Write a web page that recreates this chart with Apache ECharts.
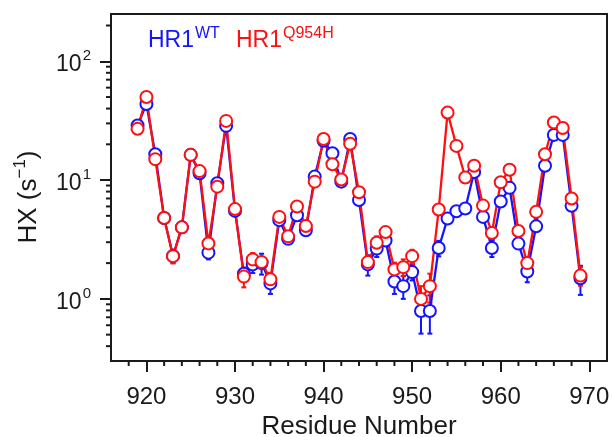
<!DOCTYPE html>
<html>
<head>
<meta charset="utf-8">
<script src="https://cdn.jsdelivr.net/npm/echarts@6/dist/echarts.min.js"></script>
<style>html,body{margin:0;padding:0;background:#fff}#c{width:612px;height:437px}</style>
</head>
<body>
<div id="c"></div>
<script>
const residues = [919,920,921,922,923,924,925,926,927,928,929,930,931,932,933,934,935,936,937,938,939,940,941,942,943,944,945,946,947,948,949,950,951,952,953,954,955,956,957,958,959,960,961,962,963,964,965,966,967,968,969];
const hxWT = [28.8,43.7,16.5,4.8,2.3,4.0,16.3,11.4,2.45,9.4,28.6,5.5,1.63,1.95,2.0,1.35,4.6,3.2,5.06,3.78,10.7,21.4,16.8,9.7,22.2,6.8,1.95,2.65,3.1,1.4,1.28,1.68,0.79,0.79,2.68,4.75,5.47,5.77,11.7,4.9,2.68,6.6,8.6,2.92,1.7,4.08,13.2,24,24,6.07,1.49];
const errWT = [1.5,2.5,1.0,0.3,0.3,0.25,0.9,0.7,0.3,0.5,1.5,0.3,0.2,0.3,0.4,0.25,0.3,0.3,0.3,0.25,0.6,1.2,0.9,0.5,1.2,0.4,0.38,0.4,0.25,0.3,0.28,0.25,0.28,0.28,0.4,0.3,0.3,0.3,0.7,0.3,0.43,0.4,0.5,0.2,0.32,0.3,0.8,1.4,1.4,0.4,0.41];
const hxMut = [27,50,15.0,4.8,2.29,4.0,16.3,11.9,2.93,8.8,31.5,5.7,1.54,2.15,2.04,1.46,4.9,3.36,6.0,4.1,9.7,22.2,13.6,10.1,20.2,7.9,2.04,2.97,3.65,1.77,1.85,2.29,1.0,1.28,5.65,37,19.4,10.5,13.2,6.1,3.59,9.6,12.2,3.73,2.0,5.4,16.5,30.5,27.4,7.0,1.57];
const errMut = [1.5,3,0.9,0.3,0.3,0.25,0.9,0.7,0.2,0.5,1.8,0.3,0.29,0.28,0.15,0.2,0.3,0.2,0.35,0.25,0.6,1.3,0.8,0.6,1.2,0.45,0.2,0.39,0.38,0.25,0.3,0.3,0.28,0.35,0.3,2,1.1,0.6,0.8,0.35,0.2,0.55,0.7,0.2,0.15,0.3,1.0,1.8,1.6,0.4,0.28];
const xMajorTicks = [920,930,940,950,960,970];
const xMinorTicks = [918,922,924,926,928,932,934,936,938,942,944,946,948,952,954,956,958,962,964,966,968];
const yMajorTicks = [1,10,100];
const yMinorTicks = [0.4,0.5,0.6,0.7,0.8,0.9,2,3,4,5,6,7,8,9,20,30,40,50,60,70,80,90,200];
const legendWT = ['HR1','WT'];
const legendMut = ['HR1','Q954H'];
const yName = ['HX (s','\u22121',')'];
const xName = 'Residue Number';

const X_MIN = 916, X_MAX = 972, Y_MIN = 0.3, Y_MAX = 250;
const BLUE = '#1414ff', RED = '#ff0f0f', INK = '#1a1a1a';
const FONT = 'Liberation Sans, Arial, sans-serif';
const chart = echarts.init(document.getElementById('c'), null, {renderer:'canvas'});

function pairs(v){ return residues.map((r,i)=>[r, v[i]]); }
function errRows(v,e){ return residues.map((r,i)=>[r, v[i], e[i]]); }
function errSeries(v,e,color){
  return {
    type:'custom', xAxisIndex:0, yAxisIndex:0, silent:true,
    data: errRows(v,e), encode:{x:0,y:1},
    renderItem(params, api){
      const x = api.value(0), val = api.value(1), er = api.value(2);
      const lo = api.coord([x, val-er]), hi = api.coord([x, val+er]);
      const w = 2.5;
      const st = {stroke:color, lineWidth:2};
      return {type:'group', children:[
        {type:'line', shape:{x1:lo[0],y1:lo[1],x2:hi[0],y2:hi[1]}, style:st},
        {type:'line', shape:{x1:lo[0]-w,y1:lo[1],x2:lo[0]+w,y2:lo[1]}, style:st},
        {type:'line', shape:{x1:hi[0]-w,y1:hi[1],x2:hi[0]+w,y2:hi[1]}, style:st}
      ]};
    }
  };
}
function lineSeries(v,color){
  return {type:'line', xAxisIndex:0, yAxisIndex:0, data:pairs(v), symbol:'circle', symbolSize:12,
    lineStyle:{color, width:2.3}, itemStyle:{color:'#fff', borderColor:color, borderWidth:2}, silent:true};
}
// minor axis ticks: x ticks hang from the bottom edge, y ticks from the left edge of the grid
function xMinorSeries(){
  return {
    type:'custom', xAxisIndex:0, yAxisIndex:0, silent:true, clip:false, z:5,
    data: xMinorTicks.map(v=>[v, 1]), encode:{x:0,y:1},
    renderItem(params, api){
      const cs = params.coordSys;
      const px = api.coord([api.value(0), 1])[0];
      const yb = cs.y + cs.height;
      return {type:'line', shape:{x1:px, y1:yb, x2:px, y2:yb+5}, style:{stroke:INK, lineWidth:2}};
    }
  };
}
function yMinorSeries(){
  return {
    type:'custom', xAxisIndex:0, yAxisIndex:0, silent:true, clip:false, z:5,
    data: yMinorTicks.map(v=>[940, v]), encode:{x:0,y:1},
    renderItem(params, api){
      const cs = params.coordSys;
      const py = api.coord([940, api.value(1)])[1];
      const xl = cs.x;
      return {type:'line', shape:{x1:xl-5, y1:py, x2:xl, y2:py}, style:{stroke:INK, lineWidth:2}};
    }
  };
}
const supRich = {
  b:{fontSize:23, fontFamily:FONT, color:INK, lineHeight:30, verticalAlign:'bottom'},
  s:{fontSize:15, fontFamily:FONT, color:INK, lineHeight:30, padding:[0,0,10,1]}
};

chart.setOption({
  animation:false,
  grid:{left:111, right:5, top:14, bottom:76, show:true, borderColor:INK, borderWidth:2, backgroundColor:'transparent', outerBoundsMode:'none', containLabel:false},
  xAxis:{
    type:'value', min:X_MIN, max:X_MAX, position:'bottom',
    name:xName, nameLocation:'middle', nameGap:52,
    nameTextStyle:{fontSize:26, fontFamily:FONT, color:INK},
    axisLine:{lineStyle:{color:INK, width:2}},
    axisTick:{customValues:xMajorTicks, length:11, lineStyle:{color:INK, width:2}},
    axisLabel:{customValues:xMajorTicks, fontSize:24, fontFamily:FONT, color:INK, margin:24},
    splitLine:{show:false}
  },
  yAxis:{
    type:'log', logBase:10, min:Y_MIN, max:Y_MAX,
    axisLine:{lineStyle:{color:INK, width:2}},
    axisTick:{customValues:yMajorTicks, length:11, lineStyle:{color:INK, width:2}},
    axisLabel:{customValues:yMajorTicks, margin:20, rich:supRich,
      formatter:(v)=>'{b|10}{s|'+Math.round(Math.log10(v))+'}'},
    splitLine:{show:false}, minorTick:{show:false}
  },
  graphic:[
    {type:'text', x:26, y:197, rotation:Math.PI/2, style:{
      text:'{b|'+yName[0]+'}{s|'+yName[1]+'}{b|'+yName[2]+'}', align:'center', verticalAlign:'middle',
      rich:{b:{fontSize:26, fontFamily:FONT, fill:INK, lineHeight:32, verticalAlign:'bottom'}, s:{fontSize:17, fontFamily:FONT, fill:INK, lineHeight:32, padding:[0,0,11,0]}}}},
    {type:'text', x:148, y:24, style:{
      text:'{b|'+legendWT[0]+'}{s|'+legendWT[1]+'}', align:'left', verticalAlign:'top',
      rich:{b:{fontSize:23, fontFamily:FONT, fill:BLUE, lineHeight:28, verticalAlign:'bottom'}, s:{fontSize:16, fontFamily:FONT, fill:BLUE, lineHeight:28, padding:[0,0,9,1]}}}},
    {type:'text', x:236, y:24, style:{
      text:'{b|'+legendMut[0]+'}{s|'+legendMut[1]+'}', align:'left', verticalAlign:'top',
      rich:{b:{fontSize:23, fontFamily:FONT, fill:RED, lineHeight:28, verticalAlign:'bottom'}, s:{fontSize:16, fontFamily:FONT, fill:RED, lineHeight:28, padding:[0,0,9,1]}}}}
  ],
  series:[
    xMinorSeries(),
    yMinorSeries(),
    errSeries(hxWT, errWT, BLUE),
    lineSeries(hxWT, BLUE),
    errSeries(hxMut, errMut, RED),
    lineSeries(hxMut, RED)
  ]
});
</script>
</body>
</html>
